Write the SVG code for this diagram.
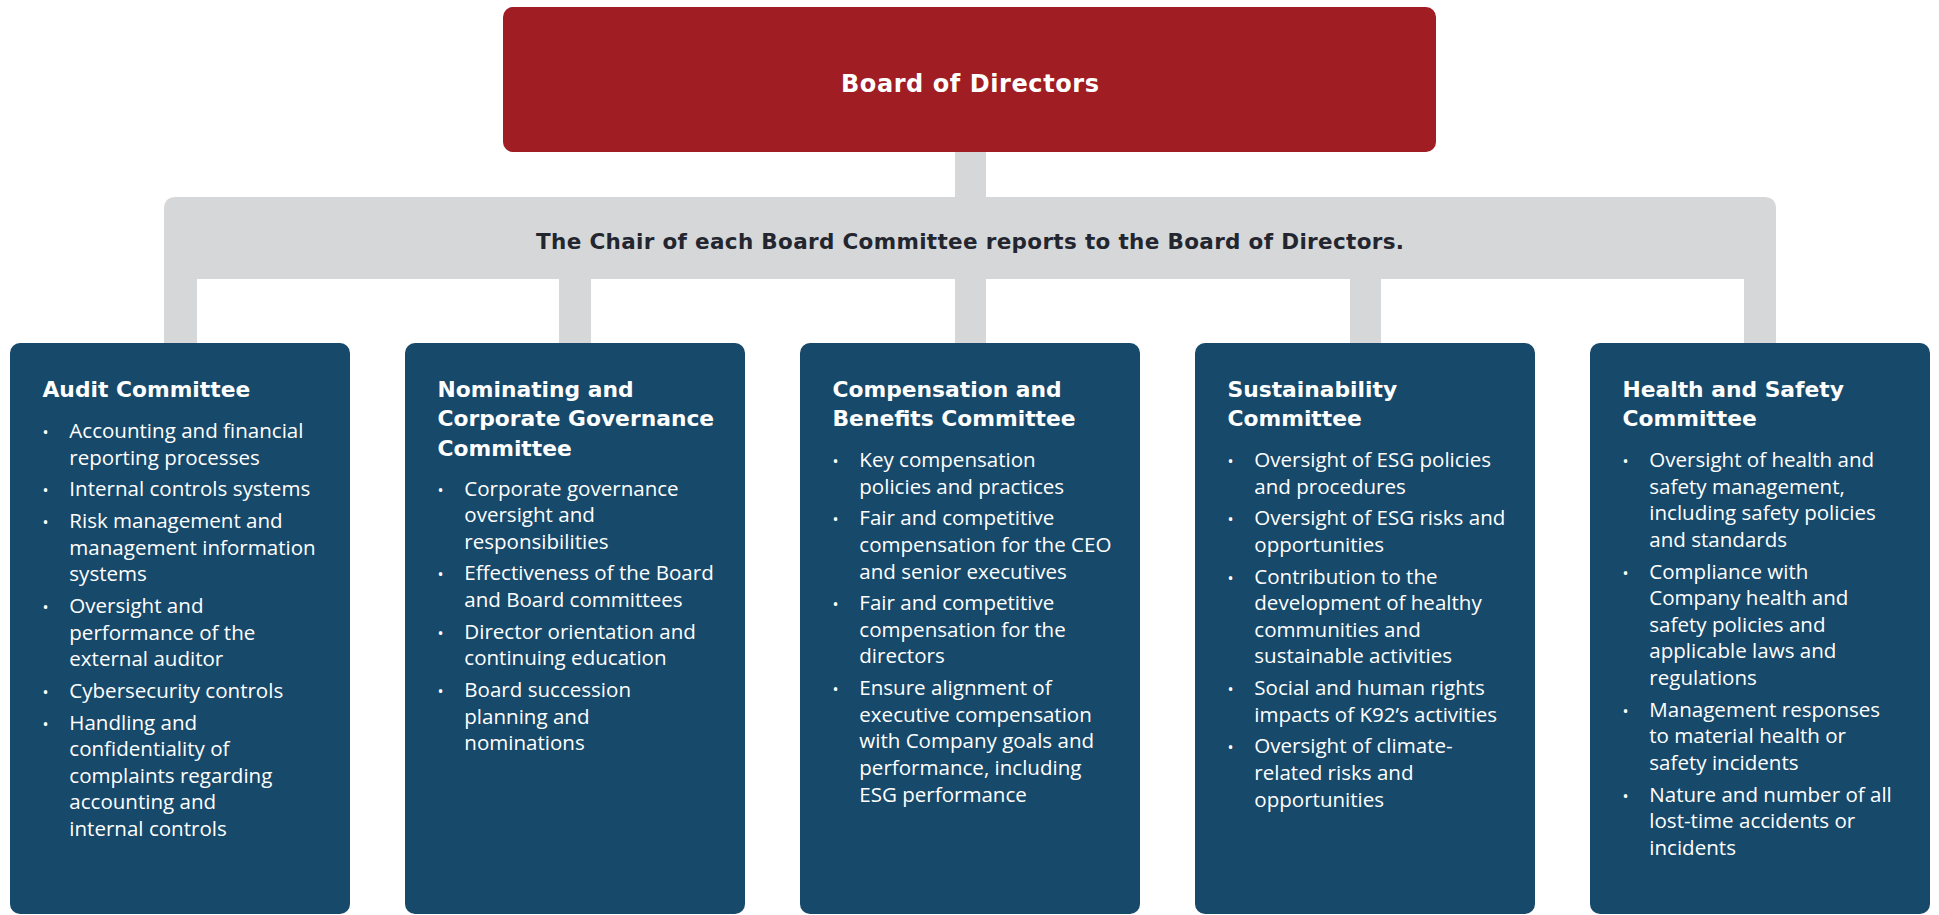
<svg xmlns="http://www.w3.org/2000/svg" width="1939" height="915" viewBox="0 0 1939 915">
  <style>
    .board { fill: #9f1d23; }
    .link { fill: #d6d7d9; }
    .card { fill: #17496b; }
    .title { font-family: "DejaVu Sans", "Liberation Sans", sans-serif; font-weight: bold; fill: #ffffff; }
    .bar-label { font-family: "DejaVu Sans", "Liberation Sans", sans-serif; font-weight: bold; font-size: 21.5px; fill: #23262f; }
    .head { font-family: "DejaVu Sans", "Liberation Sans", sans-serif; font-weight: bold; font-size: 21.8px; fill: #ffffff; }
    .item { font-family: "Open Sans", "Noto Sans", sans-serif; font-size: 20.55px; fill: #ffffff; }
    .dot { font-family: "Open Sans", "Noto Sans", sans-serif; font-size: 16px; fill: #ffffff; text-anchor: middle; }
  </style>

  <!-- connectors: stem, reporting bar and drops to each committee -->
  <g id="connectors">
    <rect class="link" x="955" y="150" width="31" height="50"/>
    <path class="link" d="M164,279 V209 Q164,197 176,197 H1764 Q1776,197 1776,209 V279 Z"/>
    <rect class="link" x="164" y="275" width="33" height="70"/>
    <rect class="link" x="559" y="275" width="32" height="70"/>
    <rect class="link" x="955" y="275" width="31" height="70"/>
    <rect class="link" x="1350" y="275" width="31" height="70"/>
    <rect class="link" x="1744" y="275" width="32" height="70"/>
    <text class="bar-label" x="970" y="249" text-anchor="middle" textLength="868">The Chair of each Board Committee reports to the Board of Directors.</text>
  </g>

  <g id="board">
    <rect class="board" x="503" y="7" width="933" height="145" rx="10"/>
    <text class="title" x="970" y="92" font-size="24" text-anchor="middle" textLength="258">Board of Directors</text>
  </g>

  <g id="audit-committee">
    <rect class="card" x="10" y="343" width="340" height="571" rx="10"/>
    <text class="head" x="42.5" y="396.5">Audit Committee</text>
    <text class="dot" x="45.5" y="438">•</text>
    <text class="item" x="69.3" y="438">Accounting and financial</text>
    <text class="item" x="69.3" y="464.6">reporting processes</text>
    <text class="dot" x="45.5" y="496.3">•</text>
    <text class="item" x="69.3" y="496.3">Internal controls systems</text>
    <text class="dot" x="45.5" y="528">•</text>
    <text class="item" x="69.3" y="528">Risk management and</text>
    <text class="item" x="69.3" y="554.6">management information</text>
    <text class="item" x="69.3" y="581.2">systems</text>
    <text class="dot" x="45.5" y="612.9">•</text>
    <text class="item" x="69.3" y="612.9">Oversight and</text>
    <text class="item" x="69.3" y="639.5">performance of the</text>
    <text class="item" x="69.3" y="666.1">external auditor</text>
    <text class="dot" x="45.5" y="697.8">•</text>
    <text class="item" x="69.3" y="697.8">Cybersecurity controls</text>
    <text class="dot" x="45.5" y="729.5">•</text>
    <text class="item" x="69.3" y="729.5">Handling and</text>
    <text class="item" x="69.3" y="756.1">confidentiality of</text>
    <text class="item" x="69.3" y="782.7">complaints regarding</text>
    <text class="item" x="69.3" y="809.3">accounting and</text>
    <text class="item" x="69.3" y="835.9">internal controls</text>
  </g>

  <g id="nominating-committee">
    <rect class="card" x="405" y="343" width="340" height="571" rx="10"/>
    <text class="head" x="437.5" y="396.5">Nominating and</text>
    <text class="head" x="437.5" y="426.1">Corporate Governance</text>
    <text class="head" x="437.5" y="455.7">Committee</text>
    <text class="dot" x="440.5" y="495.5">•</text>
    <text class="item" x="464.3" y="495.5">Corporate governance</text>
    <text class="item" x="464.3" y="522.1">oversight and</text>
    <text class="item" x="464.3" y="548.7">responsibilities</text>
    <text class="dot" x="440.5" y="580.4">•</text>
    <text class="item" x="464.3" y="580.4">Effectiveness of the Board</text>
    <text class="item" x="464.3" y="607">and Board committees</text>
    <text class="dot" x="440.5" y="638.7">•</text>
    <text class="item" x="464.3" y="638.7">Director orientation and</text>
    <text class="item" x="464.3" y="665.3">continuing education</text>
    <text class="dot" x="440.5" y="697">•</text>
    <text class="item" x="464.3" y="697">Board succession</text>
    <text class="item" x="464.3" y="723.6">planning and</text>
    <text class="item" x="464.3" y="750.2">nominations</text>
  </g>

  <g id="compensation-committee">
    <rect class="card" x="800" y="343" width="340" height="571" rx="10"/>
    <text class="head" x="832.5" y="396.5">Compensation and</text>
    <text class="head" x="832.5" y="426.1">Benefits Committee</text>
    <text class="dot" x="835.5" y="467">•</text>
    <text class="item" x="859.3" y="467">Key compensation</text>
    <text class="item" x="859.3" y="493.6">policies and practices</text>
    <text class="dot" x="835.5" y="525.3">•</text>
    <text class="item" x="859.3" y="525.3">Fair and competitive</text>
    <text class="item" x="859.3" y="551.9">compensation for the CEO</text>
    <text class="item" x="859.3" y="578.5">and senior executives</text>
    <text class="dot" x="835.5" y="610.2">•</text>
    <text class="item" x="859.3" y="610.2">Fair and competitive</text>
    <text class="item" x="859.3" y="636.8">compensation for the</text>
    <text class="item" x="859.3" y="663.4">directors</text>
    <text class="dot" x="835.5" y="695.1">•</text>
    <text class="item" x="859.3" y="695.1">Ensure alignment of</text>
    <text class="item" x="859.3" y="721.7">executive compensation</text>
    <text class="item" x="859.3" y="748.3">with Company goals and</text>
    <text class="item" x="859.3" y="774.9">performance, including</text>
    <text class="item" x="859.3" y="801.5">ESG performance</text>
  </g>

  <g id="sustainability-committee">
    <rect class="card" x="1195" y="343" width="340" height="571" rx="10"/>
    <text class="head" x="1227.5" y="396.5">Sustainability</text>
    <text class="head" x="1227.5" y="426.1">Committee</text>
    <text class="dot" x="1230.5" y="467">•</text>
    <text class="item" x="1254.3" y="467">Oversight of ESG policies</text>
    <text class="item" x="1254.3" y="493.6">and procedures</text>
    <text class="dot" x="1230.5" y="525.3">•</text>
    <text class="item" x="1254.3" y="525.3">Oversight of ESG risks and</text>
    <text class="item" x="1254.3" y="551.9">opportunities</text>
    <text class="dot" x="1230.5" y="583.6">•</text>
    <text class="item" x="1254.3" y="583.6">Contribution to the</text>
    <text class="item" x="1254.3" y="610.2">development of healthy</text>
    <text class="item" x="1254.3" y="636.8">communities and</text>
    <text class="item" x="1254.3" y="663.4">sustainable activities</text>
    <text class="dot" x="1230.5" y="695.1">•</text>
    <text class="item" x="1254.3" y="695.1">Social and human rights</text>
    <text class="item" x="1254.3" y="721.7">impacts of K92’s activities</text>
    <text class="dot" x="1230.5" y="753.4">•</text>
    <text class="item" x="1254.3" y="753.4">Oversight of climate-</text>
    <text class="item" x="1254.3" y="780">related risks and</text>
    <text class="item" x="1254.3" y="806.6">opportunities</text>
  </g>

  <g id="health-safety-committee">
    <rect class="card" x="1590" y="343" width="340" height="571" rx="10"/>
    <text class="head" x="1622.5" y="396.5">Health and Safety</text>
    <text class="head" x="1622.5" y="426.1">Committee</text>
    <text class="dot" x="1625.5" y="467">•</text>
    <text class="item" x="1649.3" y="467">Oversight of health and</text>
    <text class="item" x="1649.3" y="493.6">safety management,</text>
    <text class="item" x="1649.3" y="520.2">including safety policies</text>
    <text class="item" x="1649.3" y="546.8">and standards</text>
    <text class="dot" x="1625.5" y="578.5">•</text>
    <text class="item" x="1649.3" y="578.5">Compliance with</text>
    <text class="item" x="1649.3" y="605.1">Company health and</text>
    <text class="item" x="1649.3" y="631.7">safety policies and</text>
    <text class="item" x="1649.3" y="658.3">applicable laws and</text>
    <text class="item" x="1649.3" y="684.9">regulations</text>
    <text class="dot" x="1625.5" y="716.6">•</text>
    <text class="item" x="1649.3" y="716.6">Management responses</text>
    <text class="item" x="1649.3" y="743.2">to material health or</text>
    <text class="item" x="1649.3" y="769.8">safety incidents</text>
    <text class="dot" x="1625.5" y="801.5">•</text>
    <text class="item" x="1649.3" y="801.5">Nature and number of all</text>
    <text class="item" x="1649.3" y="828.1">lost-time accidents or</text>
    <text class="item" x="1649.3" y="854.7">incidents</text>
  </g>
</svg>
